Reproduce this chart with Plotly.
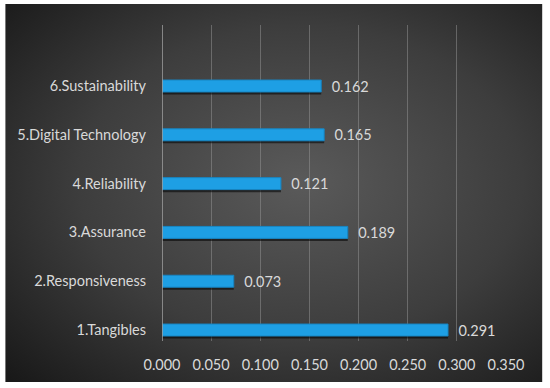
import base64
import plotly.graph_objects as go

categories = ["1.Tangibles", "2.Responsiveness", "3.Assurance", "4.Reliability",
              "5.Digital Technology", "6.Sustainability"]
values = [0.291, 0.073, 0.189, 0.121, 0.165, 0.162]
x_ticks = [0.0, 0.05, 0.10, 0.15, 0.20, 0.25, 0.30, 0.35]
x_tick_labels = ["0.000", "0.050", "0.100", "0.150", "0.200", "0.250", "0.300", "0.350"]

positions = list(range(len(categories)))
shadow_positions = [p - 0.05 for p in positions]

FONT = "Lato, 'Open Sans', sans-serif"
TXT = "#d9d9d9"

svg = """<svg xmlns='http://www.w3.org/2000/svg' width='538' height='378' viewBox='0 0 538 378' preserveAspectRatio='none'>
<defs><radialGradient id='g' cx='0.55' cy='0.47' r='0.75'>
<stop offset='0' stop-color='#5a5a5a'/>
<stop offset='0.55' stop-color='#3d3d3d'/>
<stop offset='1' stop-color='#191919'/>
</radialGradient></defs>
<rect width='538' height='378' fill='url(#g)'/>
</svg>"""
bg_uri = "data:image/svg+xml;base64," + base64.b64encode(svg.encode()).decode()

fig = go.Figure()
fig.add_trace(go.Bar(
    x=values, y=shadow_positions, orientation="h", width=0.25,
    marker=dict(color="rgba(0,0,0,0.55)", line=dict(width=0)),
    hoverinfo="skip", showlegend=False,
))
fig.add_trace(go.Bar(
    x=values, y=positions, orientation="h", width=0.245,
    marker=dict(color="#1e9fe4", line=dict(color="#1786c4", width=1)),
    texttemplate="\u00a0\u00a0%{x:.3f}", textposition="outside", cliponaxis=False,
    constraintext="none",
    textfont=dict(color=TXT, size=14.5, family=FONT),
    showlegend=False,
))

W, H = 550, 388
L, R, T, B = 162, 43.5, 25, 47
pw, ph = W - L - R, H - T - B
fig.add_layout_image(dict(
    source=bg_uri, xref="paper", yref="paper",
    x=(5 - L) / pw, y=(H - B - 4) / ph,
    sizex=538 / pw, sizey=378 / ph,
    xanchor="left", yanchor="top", sizing="stretch", layer="below",
))

fig.update_layout(
    width=W, height=H,
    margin=dict(l=L, r=R, t=T, b=B),
    paper_bgcolor="white", plot_bgcolor="rgba(0,0,0,0)",
    barmode="overlay",
    font=dict(family=FONT, color=TXT, size=14.5),
    xaxis=dict(range=[0, 0.35], tickvals=x_ticks, ticktext=x_tick_labels,
               showgrid=True, gridcolor="rgba(150,150,150,0.5)", gridwidth=1,
               zeroline=False, showline=False, ticks="", automargin=False,
               ticklabelstandoff=13, tickfont=dict(size=14.5, color=TXT)),
    yaxis=dict(range=[-0.225, 6.25], tickvals=positions, ticktext=categories,
               showgrid=False, zeroline=False, showline=False, ticks="",
               automargin=False,
               ticklabelstandoff=15, tickfont=dict(size=14.5, color=TXT)),
    shapes=[dict(type="line", xref="x", yref="paper", x0=0, x1=0, y0=0, y1=1,
                 line=dict(color="#a0a0a0", width=1.5), layer="above")],
)

fig.write_html("out.html", post_script="document.body.style.margin='0';",
               config={"displayModeBar": False})
